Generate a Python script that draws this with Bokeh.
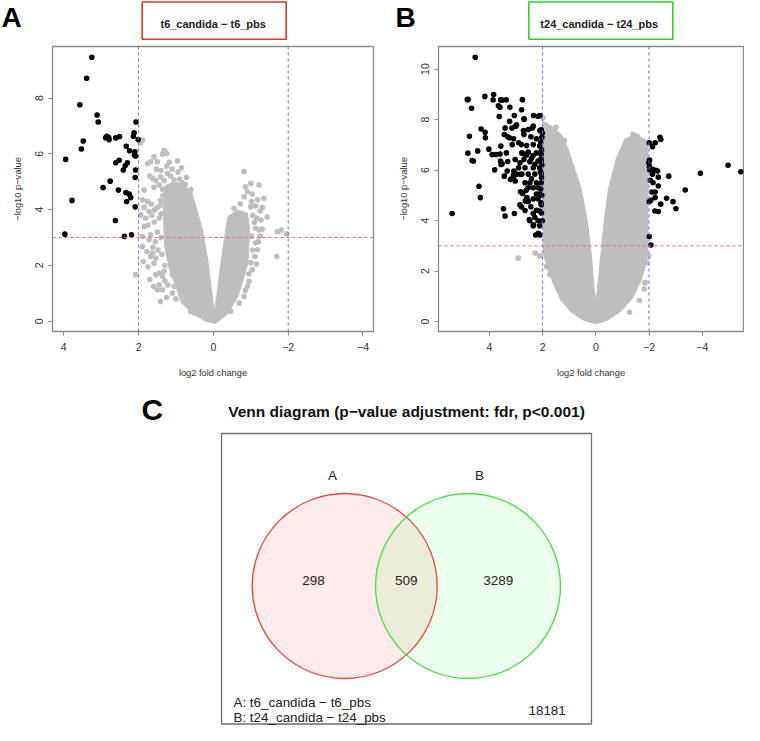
from bokeh.plotting import figure
from bokeh.layouts import column, row
from bokeh.models import Range1d, FixedTicker, Span
from bokeh.embed import file_html
from bokeh.resources import INLINE
from bokeh.core.properties import value

FONT = "Liberation Sans"
GRAY = "#bebebe"

# ---------------- data ----------------
fc_ticks = [4, 2, 0, -2, -4]
p_ticks_a = [0, 2, 4, 6, 8]
p_ticks_b = [0, 2, 4, 6, 8, 10]
fc_cutoff = 2
p_cutoff = 3

title_a = "t6_candida \u2212 t6_pbs"
title_b = "t24_candida \u2212 t24_pbs"
x_title = "log2 fold change"
y_title = "\u2212log10 p\u2212value"

# panel A: significant genes (log2 FC, -log10 p)
a_sig = [(3.25, 9.46), (3.39, 8.71), (3.57, 7.76), (3.11, 7.39), (3.08, 7.14), (2.07, 7.14),
         (2.85, 6.63), (2.80, 6.58), (2.88, 6.58), (2.79, 6.51), (2.61, 6.57), (2.51, 6.62),
         (2.12, 6.75), (2.14, 6.63), (2.01, 6.51), (3.48, 6.46), (3.53, 6.17), (2.33, 6.27),
         (2.24, 6.11), (2.10, 6.07), (2.11, 5.95), (2.08, 5.92), (3.95, 5.80), (2.52, 5.77),
         (2.61, 5.68), (2.30, 5.68), (2.36, 5.57), (2.41, 5.42), (2.08, 5.42), (2.09, 5.15),
         (2.76, 5.02), (2.95, 4.79), (2.54, 4.70), (2.34, 4.61), (2.25, 4.56), (2.21, 4.43),
         (2.32, 4.29), (3.78, 4.33), (2.09, 4.10), (2.62, 3.61), (3.97, 3.12), (2.38, 3.04),
         (2.19, 3.10)]
# panel A: non-significant genes, dense body outline
a_core = [(1.30, 4.85), (1.05, 5.00), (0.78, 4.90), (0.55, 4.50), (0.29, 3.27), (0.14, 2.08),
          (0.03, 0.89), (-0.02, 0.36), (-0.09, 0.89), (-0.20, 2.08), (-0.33, 3.27), (-0.39, 3.75),
          (-0.64, 3.99), (-0.91, 3.87), (-0.97, 3.27), (-0.92, 2.08), (-0.80, 1.49), (-0.66, 0.89),
          (-0.37, 0.24), (-0.06, -0.08), (0.20, 0.00), (0.52, 0.24), (0.85, 0.65), (1.00, 1.25),
          (1.18, 1.85), (1.30, 2.68), (1.33, 3.51), (1.33, 4.30)]
# panel A: non-significant genes, scattered
a_gray = [(1.90, 6.49), (1.95, 6.40), (1.32, 6.13), (1.36, 5.99), (1.25, 6.01), (1.59, 5.89),
          (1.68, 5.71), (1.50, 5.71), (1.76, 5.65), (0.96, 5.75), (1.63, 5.12), (1.54, 5.04),
          (1.41, 5.18), (1.32, 5.04), (1.23, 5.30), (1.14, 5.20), (1.05, 5.06), (0.83, 4.96),
          (1.45, 4.88), (1.36, 4.73), (1.59, 4.80), (0.96, 4.76), (0.70, 4.64), (1.85, 4.70),
          (1.90, 4.35), (1.85, 4.08), (1.94, 3.81), (1.76, 4.29), (1.66, 4.20), (1.72, 3.93),
          (1.57, 3.99), (1.81, 3.69), (1.85, 3.39), (1.75, 3.45), (1.50, 4.08), (1.41, 4.32),
          (1.90, 3.04), (1.68, 3.10), (1.72, 2.92), (1.90, 2.68), (1.87, 2.14), (1.63, 2.44),
          (1.54, 2.26), (1.68, 2.32), (1.59, 2.08), (1.54, 1.67), (1.45, 1.73), (1.36, 1.61),
          (1.32, 1.79), (1.10, 1.67), (1.45, 1.31), (1.50, 1.13), (1.36, 1.13), (1.05, 1.25),
          (1.10, 1.01), (1.41, 0.71), (2.08, 1.67), (0.61, 0.36), (0.52, 0.30),
          (0.75, 4.90), (0.90, 5.10), (1.00, 4.60), (0.62, 4.55), (1.20, 4.75), (1.10, 5.45),
          (0.85, 5.50), (1.25, 5.55), (1.40, 5.40), (1.15, 4.55), (0.80, 4.70), (1.35, 4.50),
          (1.45, 3.70), (1.40, 3.00), (1.38, 2.40), (1.30, 2.00),
          (1.50, 3.20), (1.55, 2.85), (1.62, 2.65), (1.48, 2.55), (1.78, 2.50), (1.58, 3.55),
          (1.65, 3.80), (1.40, 3.85), (1.42, 4.15), (1.28, 4.60), (0.60, 4.72), (0.95, 5.35),
          (1.75, 1.95), (1.30, 1.45), (1.22, 1.30), (1.25, 0.85), (1.00, 0.80), (1.70, 1.50),
          (1.60, 1.25), (0.72, 5.15), (1.18, 5.70), (1.52, 5.45), (1.70, 5.20),
          (-0.82, 5.36), (-0.86, 4.82), (-1.00, 4.94), (-1.22, 4.88), (-0.91, 4.64), (-1.04, 4.56),
          (-0.82, 4.46), (-1.35, 4.40), (-1.18, 4.35), (-1.02, 4.29), (-1.13, 4.13), (-1.31, 4.08),
          (-1.44, 3.73), (-1.27, 3.63), (-1.22, 3.27), (-1.13, 3.33), (-1.71, 3.21), (-1.82, 3.27),
          (-1.96, 3.13), (-1.69, 2.32), (-1.13, 2.80), (-1.18, 2.56), (-1.11, 2.32), (-1.04, 1.85),
          (-0.95, 1.43), (-0.91, 1.25), (-0.82, 0.89), (-0.69, 0.65), (-0.46, 0.36),
          (-1.05, 3.80), (-1.10, 3.55), (-1.02, 3.05), (-1.00, 4.10), (-1.25, 3.95), (-1.15, 3.70),
          (-1.30, 3.30), (-1.25, 3.05), (-1.20, 2.85), (-1.05, 2.55), (-1.00, 2.10), (-1.15, 2.05),
          (-0.95, 1.70), (-0.85, 1.10), (-0.72, 4.20), (-0.55, 4.05)]

# panel B: significant genes
b_sig = [(4.53, 10.47), (4.83, 8.79), (4.80, 8.80), (4.17, 8.92), (3.84, 8.99), (3.86, 8.78),
         (3.58, 8.78), (3.52, 8.77), (3.37, 8.78), (2.76, 8.79), (3.66, 8.55), (3.60, 8.49),
         (3.23, 8.49), (4.67, 8.45), (2.79, 8.39), (3.63, 8.12), (3.06, 8.16), (2.34, 8.16),
         (2.10, 8.16), (3.24, 7.93), (2.69, 8.01), (4.31, 7.63), (3.41, 7.67), (3.15, 7.67),
         (3.01, 7.74), (4.16, 7.50), (4.75, 7.34), (4.15, 7.28), (3.44, 7.41), (3.25, 7.28),
         (2.72, 7.57), (2.39, 7.67), (2.10, 7.57), (3.14, 7.01), (2.80, 7.01), (3.57, 6.95),
         (4.02, 6.83), (4.44, 6.76), (4.81, 6.67), (3.90, 6.62), (3.75, 6.62), (3.60, 6.64),
         (3.36, 6.68), (2.69, 6.64), (4.65, 6.38), (4.60, 6.36), (3.56, 6.22), (3.31, 6.34),
         (3.80, 6.01), (3.08, 5.96), (3.44, 5.76), (3.10, 5.70), (2.83, 5.83), (4.39, 5.36),
         (4.34, 4.91), (3.47, 4.47), (3.41, 4.18), (3.06, 4.28), (5.40, 4.28), (2.79, 4.54),
         (2.50, 4.04), (2.34, 3.83), (2.26, 3.43), (2.10, 3.43), (2.16, 3.50), (2.83, 5.14),
         (2.65, 4.78), (2.59, 4.91),
         (2.17, 8.13), (2.70, 8.03), (2.98, 7.79), (2.35, 7.74), (2.54, 7.61), (2.01, 7.47),
         (3.31, 7.32), (3.09, 7.24), (2.70, 7.41), (2.44, 7.32), (2.23, 7.24), (2.90, 7.08),
         (2.60, 6.97), (2.35, 7.01), (2.11, 6.95), (2.78, 6.68), (2.54, 6.71), (2.23, 6.68),
         (2.05, 6.62), (3.58, 6.36), (2.70, 6.42), (2.42, 6.45), (2.17, 6.36), (2.85, 6.29),
         (2.29, 6.23), (2.60, 6.60), (2.36, 6.58), (3.52, 6.25), (3.03, 6.42), (2.48, 6.33),
         (2.05, 6.36), (2.90, 6.09), (2.66, 6.09), (2.35, 6.09), (2.11, 6.09), (3.33, 5.96),
         (3.09, 5.80), (2.97, 5.84), (2.78, 5.84), (2.54, 5.84), (2.29, 5.84), (2.05, 5.84),
         (3.21, 5.63), (3.03, 5.57), (2.66, 5.50), (2.48, 5.50), (2.23, 5.50), (2.05, 5.50),
         (2.54, 5.30), (2.35, 5.30), (2.17, 5.30), (2.11, 5.05), (2.23, 5.05), (2.75, 5.07),
         (2.54, 4.76), (2.85, 4.62), (2.35, 4.86), (2.17, 4.86), (2.05, 4.62), (2.11, 4.38),
         (2.23, 4.41), (2.35, 4.28), (2.48, 3.99), (2.29, 4.12), (2.17, 3.99), (2.01, 3.99),
         (2.35, 3.79), (2.11, 3.79), (2.04, 4.30), (2.06, 4.70), (2.03, 5.00), (2.07, 5.25),
         (2.04, 5.70), (2.08, 5.95), (2.03, 6.20), (2.06, 6.45), (2.04, 6.80), (2.07, 7.10),
         (2.03, 7.30), (2.05, 7.60), (2.42, 5.65), (2.62, 5.20), (2.44, 4.55), (2.66, 4.40),
         (-2.01, 7.08), (-2.23, 7.08), (-2.13, 6.92), (-2.41, 7.30), (-2.44, 7.21), (-1.99, 6.29),
         (-2.01, 6.16), (-2.13, 6.03), (-2.25, 5.99), (-2.32, 5.96), (-2.13, 5.83), (-2.35, 5.72),
         (-2.74, 5.76), (-2.15, 5.50), (-2.35, 5.37), (-3.93, 5.87), (-4.97, 6.19), (-5.45, 5.93),
         (-3.36, 5.21), (-2.11, 5.13), (-2.23, 5.13), (-2.01, 4.75), (-2.07, 4.80), (-2.23, 4.91),
         (-2.44, 4.65), (-2.66, 4.88), (-2.90, 4.75), (-3.01, 4.47), (-2.22, 4.38), (-2.35, 4.36),
         (-2.01, 3.37), (-2.07, 3.03), (-2.03, 6.00), (-2.05, 5.60), (-2.02, 6.40)]
# panel B: non-significant genes, dense body outline
b_core = [(2.00, 7.93), (1.67, 7.74), (1.30, 7.41), (1.05, 6.88), (0.81, 6.09), (0.56, 5.30),
          (0.32, 3.99), (0.17, 2.67), (0.07, 1.36), (0.00, 0.76), (-0.07, 1.36), (-0.19, 2.67),
          (-0.32, 3.99), (-0.48, 5.30), (-0.78, 6.49), (-1.09, 7.21), (-1.40, 7.38), (-1.70, 7.30),
          (-1.96, 7.14), (-1.96, 2.93), (-1.89, 2.28), (-1.70, 1.62), (-1.40, 0.96), (-0.97, 0.43),
          (-0.42, 0.04), (0.01, -0.09), (0.44, 0.04), (0.93, 0.37), (1.30, 0.83), (1.54, 1.36),
          (1.79, 2.01), (1.97, 2.67)]
# panel B: non-significant genes, scattered
b_gray = [(2.92, 2.51), (2.28, 2.71), (1.85, 2.18), (-1.84, 1.53), (-1.68, 3.95), (1.98, 8.07),
          (1.73, 7.57), (1.18, 7.17), (-1.40, 7.28), (-1.71, 7.08), (1.79, 7.54), (1.85, 2.21),
          (1.61, 2.14), (1.73, 1.86), (1.42, 1.75), (1.36, 1.42), (1.18, 1.09), (0.99, 0.76),
          (0.81, 0.50), (-1.86, 1.55), (-1.82, 1.29), (-1.92, 2.34), (-1.64, 0.83), (-1.27, 0.37),
          (-1.40, 7.41), (-1.15, 7.14), (1.50, 7.70), (1.90, 7.80), (1.60, 7.30), (-1.55, 7.35),
          (-1.20, 7.00), (-1.90, 7.10), (2.10, 2.60), (-1.98, 2.60)]

venn_title = "Venn diagram (p\u2212value adjustment: fdr, p<0.001)"
venn_sets = ["A", "B"]
venn_counts = [298, 509, 3289]
venn_outside = 18181
venn_legend = ["A: " + title_a, "B: " + title_b]


# ---------------- helpers ----------------
def split(pairs):
    return [p[0] for p in pairs], [p[1] for p in pairs]


def volcano(width, left, right, top, bottom, xr, yr, yticks, core, gray, sig):
    p = figure(width=width, height=340, x_range=Range1d(*xr), y_range=Range1d(*yr),
               output_backend="svg", toolbar_location=None, title_location=None,
               min_border_left=left, min_border_right=right,
               min_border_top=top, min_border_bottom=bottom,
               background_fill_color="white", border_fill_color="white")
    p.grid.visible = False
    p.outline_line_color = "#8a8a8a"
    p.outline_line_width = 1.3
    cx, cy = split(core)
    p.patch(cx, cy, fill_color=GRAY, line_color=GRAY, line_width=1)
    gx, gy = split(gray)
    p.scatter(gx, gy, size=5.6, fill_color=GRAY, line_color=None)
    sx, sy = split(sig)
    p.scatter(sx, sy, size=5.6, fill_color="black", line_color=None)
    for loc in (fc_cutoff, -fc_cutoff):
        p.add_layout(Span(location=loc, dimension="height", line_color="#6a6af0",
                          line_width=1, line_dash="3 3"))
    p.add_layout(Span(location=p_cutoff, dimension="width", line_color="#e26a6a",
                      line_width=1, line_dash="3 3"))
    p.xaxis.ticker = FixedTicker(ticks=fc_ticks)
    p.yaxis.ticker = FixedTicker(ticks=yticks)
    for ax in (p.xaxis[0], p.yaxis[0]):
        ax.axis_line_color = None
        ax.major_tick_in = 0
        ax.major_tick_out = 4
        ax.major_tick_line_color = "#888888"
        ax.minor_tick_line_color = None
        ax.major_label_text_font = FONT
        ax.major_label_text_font_size = "10.5px"
        ax.major_label_text_color = "#333333"
        ax.axis_label_text_font = FONT
        ax.axis_label_text_font_size = "9.3px"
        ax.axis_label_text_font_style = "normal"
        ax.axis_label_text_color = "#333333"
    p.xaxis.axis_label = x_title
    p.yaxis.axis_label = y_title
    p.xaxis.major_label_standoff = 7
    p.xaxis.axis_label_standoff = 14
    p.yaxis.major_label_standoff = 5
    p.yaxis.axis_label_standoff = 10
    p.yaxis.major_label_orientation = "vertical"
    return p


def blank(width, height, xr, yr):
    p = figure(width=width, height=height, x_range=Range1d(*xr), y_range=Range1d(*yr),
               output_backend="svg", toolbar_location=None, title_location=None,
               x_axis_type=None, y_axis_type=None,
               min_border_left=0, min_border_right=0, min_border_top=0, min_border_bottom=0,
               background_fill_color="white", border_fill_color="white")
    p.grid.visible = False
    p.outline_line_color = None
    return p


# ---------------- header strip (panel letters + titles) ----------------
strip = blank(744, 40, (0, 744), (40, 0))
strip.quad(left=[141.7, 528.3], right=[285.7, 672.3], top=[1.5, 1.5], bottom=[38.7, 38.7],
           fill_color=None, line_color=["#e0372c", "#2fd22f"], line_width=1.6)
strip.text(x=[212.7, 598.7], y=[23.3, 23.3], text=[title_a, title_b],
           text_font=value(FONT), text_font_style="bold", text_font_size="11px",
           text_align="center", text_baseline="middle", text_color="#222222")
strip.text(x=[1, 395], y=[17, 17], text=["A", "B"],
           text_font=value(FONT), text_font_style="bold", text_font_size="28px",
           text_align="left", text_baseline="middle", text_color="black")

# ---------------- volcano plots ----------------
pa = volcano(380, 52, 7, 6, 48, (4.302, -4.281), (-0.368, 9.846), p_ticks_a,
             a_core, a_gray, a_sig)
pb = volcano(364, 58, 1, 5, 49, (5.912, -5.55), (-0.395, 10.896), p_ticks_b,
             b_core, b_gray, b_sig)

# ---------------- Venn diagram ----------------
pc = blank(744, 345, (0, 744), (725, 380))
pc.text(x=[406], y=[411], text=[venn_title], text_font=value(FONT), text_font_style="bold",
        text_font_size="15.5px", text_align="center", text_baseline="middle", text_color="#111111")
pc.text(x=[141], y=[409], text=["C"], text_font=value(FONT), text_font_style="bold",
        text_font_size="30px", text_align="left", text_baseline="middle", text_color="black")
pc.quad(left=[221], right=[591], top=[433], bottom=[723.5], fill_color=None,
        line_color="#6e6e6e", line_width=1.3)
pc.circle(x=[344.2, 467.5], y=[585.5, 585.5], radius=92.5,
          fill_color=["#ff0000", "#00ff00"], fill_alpha=[0.08, 0.07],
          line_color=["#e8453f", "#45dc45"], line_width=1.3)
pc.text(x=[332, 479], y=[475, 475], text=venn_sets, text_font=value(FONT),
        text_font_size="13.5px", text_align="center", text_baseline="middle", text_color="#222222")
pc.text(x=[313, 405.7, 497.7], y=[579.5, 579.5, 579.5], text=[str(v) for v in venn_counts],
        text_font=value(FONT), text_font_size="13.5px", text_align="center",
        text_baseline="middle", text_color="#222222")
pc.text(x=[233, 233], y=[702, 717], text=venn_legend, text_font=value(FONT),
        text_font_size="13.4px", text_align="left", text_baseline="middle", text_color="#222222")
pc.text(x=[528], y=[710], text=[str(venn_outside)], text_font=value(FONT),
        text_font_size="13.4px", text_align="left", text_baseline="middle", text_color="#222222")

layout = column(strip, row(pa, pb), pc)
open("out.html", "w").write(file_html(layout, INLINE))
